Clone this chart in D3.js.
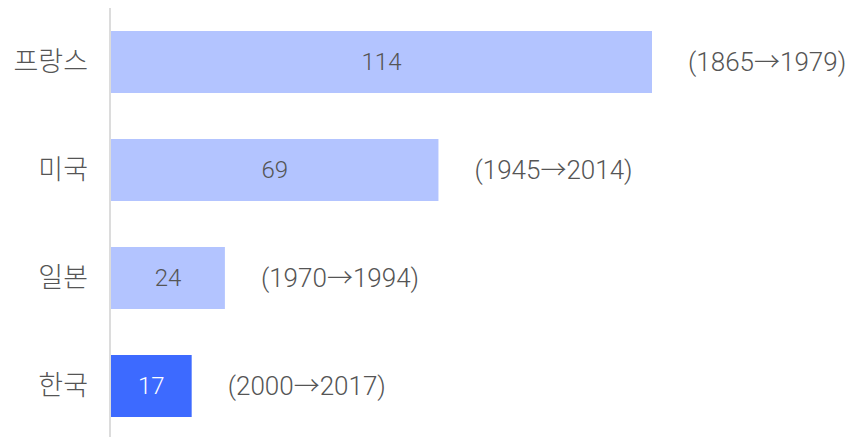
<!DOCTYPE html>
<html><head><meta charset="utf-8">
<script src="https://cdn.jsdelivr.net/npm/d3@7"></script>
<style>
html,body{margin:0;padding:0;background:#fff;}
text{font-family:Roboto,"Noto Sans CJK KR",sans-serif;font-weight:300;}
</style></head>
<body>
<svg id="chart" width="848" height="437"></svg>
<script>
const categories = ["프랑스", "미국", "일본", "한국"];
const values = [114, 69, 24, 17];
const periods = ["(1865→1979)", "(1945→2014)", "(1970→1994)", "(2000→2017)"];
const highlight = ["한국"];

const svg = d3.select("#chart");
const x = d3.scaleLinear().domain([0, 114]).range([111, 652]);
const y = d3.scaleBand().domain(categories).range([8, 440]).paddingInner(0.426).paddingOuter(0.213);

svg.append("line").attr("x1", 110).attr("x2", 110).attr("y1", 8).attr("y2", 437)
  .attr("stroke", "#dcdcdc").attr("stroke-width", 2);

const rows = categories.map((c, i) => ({c, v: values[i], p: periods[i], hi: highlight.includes(c)}));

svg.selectAll("rect.bar").data(rows).join("rect").attr("class", "bar")
  .attr("x", x(0)).attr("y", d => y(d.c))
  .attr("width", d => x(d.v) - x(0)).attr("height", y.bandwidth())
  .attr("fill", d => d.hi ? "#3d6aff" : "#b3c4ff");

svg.selectAll("text.val").data(rows).join("text").attr("class", "val")
  .attr("x", d => (x(0) + x(d.v)) / 2).attr("y", d => y(d.c) + y.bandwidth() / 2)
  .attr("text-anchor", "middle").attr("dominant-baseline", "central")
  .attr("font-size", 24).attr("fill", d => d.hi ? "#fff" : "#555")
  .text(d => d.v);

svg.selectAll("text.cat").data(rows).join("text").attr("class", "cat")
  .attr("x", 88).attr("y", d => y(d.c) + y.bandwidth() / 2)
  .attr("text-anchor", "end").attr("dominant-baseline", "central")
  .attr("font-size", 27).attr("fill", "#555")
  .text(d => d.c);

svg.selectAll("text.per").data(rows).join("text").attr("class", "per")
  .attr("x", d => x(d.v) + 36).attr("y", d => y(d.c) + y.bandwidth() / 2)
  .attr("text-anchor", "start").attr("dominant-baseline", "central")
  .attr("font-size", 26).attr("fill", "#555")
  .text(d => d.p);
</script>
</body></html>
